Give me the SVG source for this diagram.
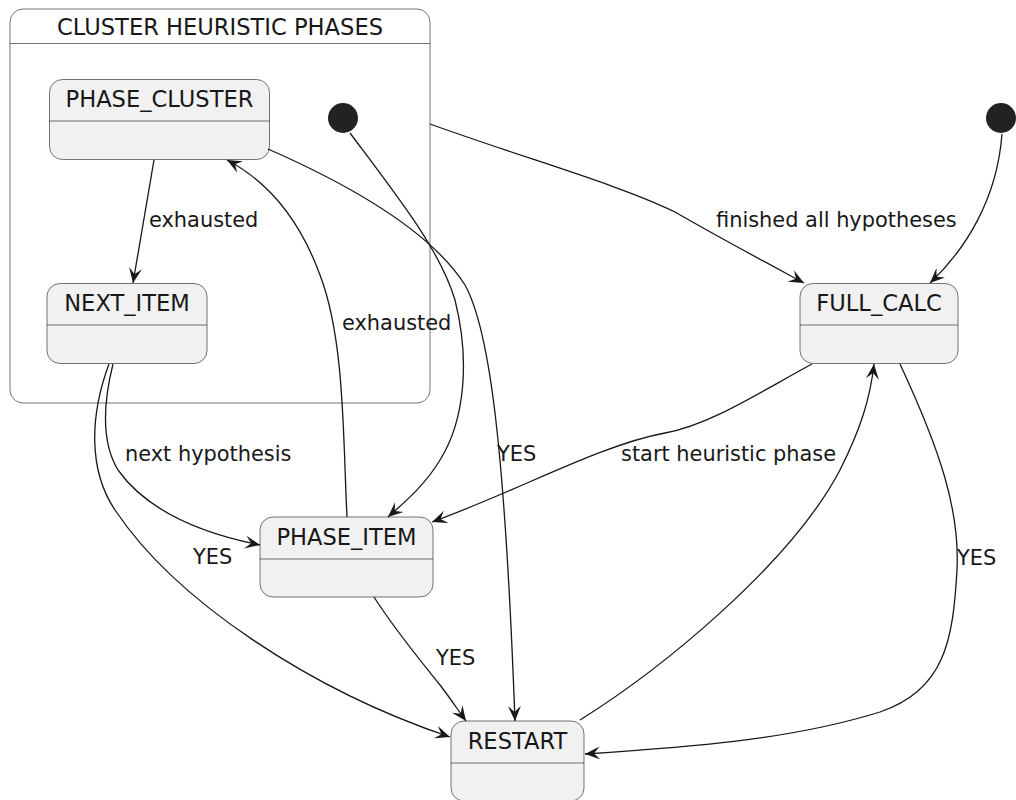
<svg xmlns="http://www.w3.org/2000/svg" width="1016" height="800" viewBox="0 0 1016 800">
<style>
.node rect.b{fill:#F1F1F1;stroke:#181818;stroke-width:0.6}
.node line{stroke:#181818;stroke-width:0.6}
.nt{font-family:"DejaVu Sans",sans-serif;font-size:22.6px;fill:#181818;text-anchor:middle}
.lbl{font-family:"DejaVu Sans",sans-serif;font-size:20.9px;fill:#181818}
.edge{fill:none;stroke:#181818;stroke-width:1.3}
.init{fill:#222222}
</style>
<defs>
<marker id="arr" viewBox="0 0 16 14" refX="15" refY="7" markerWidth="16" markerHeight="14" markerUnits="userSpaceOnUse" orient="auto">
<path d="M15,7 L0,0.5 L6,7 L0,13.5 Z" fill="#181818"/>
</marker>
</defs>
<rect width="1016" height="800" fill="#FFFFFF"/>
<g id="cluster">
<rect x="10" y="9" width="420" height="394" rx="13" fill="#FFFFFF" stroke="#181818" stroke-width="0.6"/>
<line x1="10" y1="43.5" x2="430" y2="43.5" stroke="#181818" stroke-width="0.6"/>
<text class="nt" x="220" y="35">CLUSTER HEURISTIC PHASES</text>
</g>
<g id="PHASE_CLUSTER" class="node">
<rect class="b" x="49.5" y="79.5" width="220" height="80" rx="13"/>
<line x1="49.5" y1="121" x2="269.5" y2="121"/>
<text class="nt" x="159.5" y="107">PHASE_CLUSTER</text>
</g>
<g id="NEXT_ITEM" class="node">
<rect class="b" x="47" y="283.5" width="160" height="80" rx="13"/>
<line x1="47" y1="325" x2="207" y2="325"/>
<text class="nt" x="127" y="311">NEXT_ITEM</text>
</g>
<g id="init_cluster"><circle class="init" cx="343" cy="118" r="15"/></g>
<g id="init_top"><circle class="init" cx="1001" cy="118" r="15"/></g>
<g id="FULL_CALC" class="node">
<rect class="b" x="800" y="283.5" width="158" height="80" rx="13"/>
<line x1="800" y1="325" x2="958" y2="325"/>
<text class="nt" x="879" y="311">FULL_CALC</text>
</g>
<g id="PHASE_ITEM" class="node">
<rect class="b" x="260" y="517" width="173" height="80" rx="13"/>
<line x1="260" y1="559" x2="433" y2="559"/>
<text class="nt" x="346.5" y="545">PHASE_ITEM</text>
</g>
<g id="RESTART" class="node">
<rect class="b" x="451" y="721" width="133" height="80" rx="13"/>
<line x1="451" y1="763" x2="584" y2="763"/>
<text class="nt" x="517.5" y="749">RESTART</text>
</g>
<g id="connectors">
<path class="edge" marker-end="url(#arr)" d="M154,160 L133,283"/>
<text class="lbl" x="149" y="227">exhausted</text>
<path class="edge" marker-end="url(#arr)" d="M350,133 C 400,200 440,250 455,300 C 470,360 465,420 440,460 C 425,485 405,502 388,517"/>
<path class="edge" marker-end="url(#arr)" d="M268,149 C 350,185 430,230 465,285 C 490,330 505,450 515,721"/>
<text class="lbl" x="497" y="461">YES</text>
<path class="edge" marker-end="url(#arr)" d="M347,517 C 343,440 345,340 320,275 C 298,215 265,180 227,160"/>
<text class="lbl" x="342" y="330">exhausted</text>
<path class="edge" marker-end="url(#arr)" d="M113,364 C 104,400 100,440 118,470 C 150,515 210,535 260,545"/>
<text class="lbl" x="125" y="461">next hypothesis</text>
<path class="edge" marker-end="url(#arr)" d="M109,364 C 90,415 88,470 115,510 C 175,600 310,690 450,737"/>
<text class="lbl" x="193" y="564">YES</text>
<path class="edge" marker-end="url(#arr)" d="M430,124 C 530,160 620,185 675,212 C 720,238 765,262 804,283"/>
<text class="lbl" x="716" y="227">finished all hypotheses</text>
<path class="edge" marker-end="url(#arr)" d="M1002,134 C 997,200 965,250 930,283"/>
<path class="edge" marker-end="url(#arr)" d="M812,364 C 760,392 710,425 665,433 C 600,445 520,490 432,522"/>
<text class="lbl" x="621" y="461">start heuristic phase</text>
<path class="edge" marker-end="url(#arr)" d="M580,720 C 660,670 790,565 840,470 C 860,430 870,400 874,364"/>
<path class="edge" marker-end="url(#arr)" d="M900,364 C 940,450 960,510 957,570 C 953,640 945,690 880,712 C 790,740 690,747 585,754"/>
<text class="lbl" x="957" y="565">YES</text>
<path class="edge" marker-end="url(#arr)" d="M374,597 C 395,630 420,660 440,685 C 450,698 458,710 466,721"/>
<text class="lbl" x="436" y="665">YES</text>
</g>
</svg>
